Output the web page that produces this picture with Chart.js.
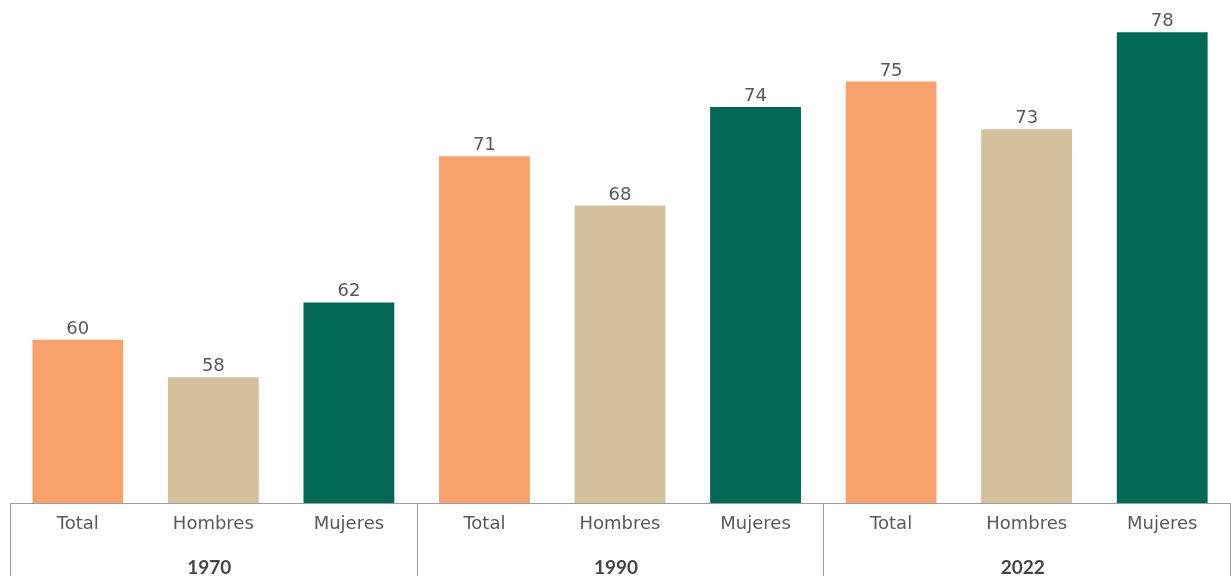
<!DOCTYPE html>
<html>
<head>
<meta charset="utf-8">
<script src="https://cdn.jsdelivr.net/npm/chart.js@4/dist/chart.umd.min.js"></script>
<style>
  body { margin: 0; background: #fff; }
  canvas { display: block; }
</style>
</head>
<body>
<canvas id="myChart" width="1231" height="576"></canvas>
<script>
const years = ['1970', '1990', '2022']
const groups = ['Total', 'Hombres', 'Mujeres']
const values = [60.1, 57.9, 62.3, 70.9, 68.0, 73.8, 75.3, 72.5, 78.2]
const groupColors = ['#F7A26B', '#D4C19C', '#006956']

const labels = []
years.forEach(() => groups.forEach(g => labels.push(g)))
const barColors = labels.map((l, i) => groupColors[i % groups.length])

const textColor = '#595959'
const yearColor = '#454545'
const lineColor = '#9E9E9E'

// value labels + the table under the bars
const tablePlugin = {
  id: 'table',
  afterDraw(chart) {
    const c = chart.ctx
    const x = chart.scales.x
    const area = chart.chartArea
    const meta = chart.getDatasetMeta(0)
    const step = x.getPixelForValue(1) - x.getPixelForValue(0)

    c.save()
    c.fillStyle = textColor
    c.textAlign = 'center'

    // numbers on top of bars
    c.font = '18px "DejaVu Sans"'
    c.textBaseline = 'alphabetic'
    meta.data.forEach((bar, i) => {
      c.fillText(Math.round(values[i]), bar.x, bar.y - 6)
    })

    // lines
    c.strokeStyle = lineColor
    c.lineWidth = 1
    c.beginPath()
    c.moveTo(area.left, area.bottom + 0.5)
    c.lineTo(area.right, area.bottom + 0.5)
    for (let k = 0; k <= years.length; k++) {
      const px = Math.round(x.getPixelForValue(k * groups.length) - step / 2) + 0.5
      c.moveTo(px, area.bottom)
      c.lineTo(px, chart.height)
    }
    c.stroke()

    // category labels
    c.font = '18px "DejaVu Sans"'
    labels.forEach((l, i) => {
      c.fillText(l, x.getPixelForValue(i), area.bottom + 26)
    })

    // years
    c.fillStyle = yearColor
    c.font = 'bold 19px Lato'
    years.forEach((y, k) => {
      c.fillText(y, x.getPixelForValue(k * groups.length + 1) - 4, area.bottom + 71)
    })
    c.restore()
  }
}

const ctx = document.getElementById('myChart').getContext('2d')
const myChart = new Chart(ctx, {
  type: 'bar',
  data: {
    labels: labels,
    datasets: [{
      data: values,
      backgroundColor: barColors,
      barPercentage: 0.67,
      categoryPercentage: 1.0
    }]
  },
  options: {
    responsive: false,
    animation: false,
    layout: { padding: { left: 10, right: 1, top: 0, bottom: 73 } },
    plugins: {
      legend: { display: false },
      tooltip: { enabled: false }
    },
    scales: {
      x: { display: false },
      y: { display: false, min: 50.5, max: 80.1 }
    }
  },
  plugins: [tablePlugin]
})
</script>
</body>
</html>
